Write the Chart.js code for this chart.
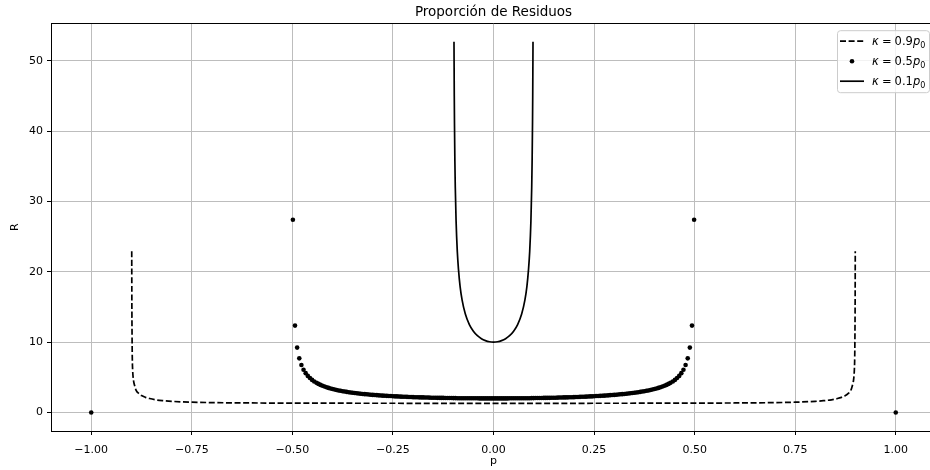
<!DOCTYPE html>
<html><head><meta charset="utf-8">
<script src="https://cdn.jsdelivr.net/npm/chart.js@4/dist/chart.umd.min.js"></script>
<style>
html,body{margin:0;padding:0;background:#fff;overflow:hidden;width:930px;height:470px}
#wrap{position:absolute;left:0;top:0;width:940px;height:470px}
</style>
</head><body><div id="wrap"><canvas id="c" width="940" height="470"></canvas></div>
<script>
const titleText = 'Proporción de Residuos';
const xLabel = 'p';
const yLabel = 'R';
const seriesLabels = ['κ = 0.9p₀', 'κ = 0.5p₀', 'κ = 0.1p₀'];
const kappaText = ['0.9', '0.5', '0.1'];
const xTicks = [-1, -0.75, -0.5, -0.25, 0, 0.25, 0.5, 0.75, 1];
const yTicks = [0, 10, 20, 30, 40, 50];

// kappa = 0.9 p0 (dashed)
const pDash = [-0.8993,-0.899,-0.8985,-0.898,-0.897,-0.895,-0.892,-0.888,-0.882,-0.875,-0.865,-0.855,-0.84,-0.82,-0.8,-0.75,-0.7,-0.6,-0.5,-0.3,0,0.3,0.5,0.6,0.7,0.75,0.8,0.82,0.84,0.855,0.865,0.875,0.882,0.888,0.892,0.895,0.897,0.898,0.8985,0.899,0.8993];
const rDash = [22.9,16,11,8,6,4.6,3.8,3.1,2.7,2.4,2.15,1.98,1.8,1.67,1.58,1.46,1.4,1.35,1.33,1.31,1.3,1.31,1.33,1.35,1.4,1.46,1.58,1.67,1.8,1.98,2.15,2.4,2.7,3.1,3.8,4.6,6,8,11,16,22.9];

// kappa = 0.5 p0 (dots)
const pDotsEnds = [-1, 1];
const rDotsEnds = [0, 0];
const pDotsLeft = [-0.4987,-0.4934,-0.4881,-0.4828,-0.4775,-0.4722,-0.4669,-0.4616,-0.4563,-0.451,-0.4457,-0.44,-0.435,-0.43,-0.425,-0.42,-0.415,-0.41,-0.405,-0.4,-0.395,-0.39,-0.385,-0.38,-0.375,-0.37,-0.365,-0.36,-0.355,-0.35,-0.345,-0.34,-0.335,-0.33,-0.325,-0.32,-0.315,-0.31,-0.305,-0.3,-0.295,-0.29,-0.285,-0.28,-0.275,-0.27,-0.265,-0.26,-0.255,-0.25,-0.245,-0.24,-0.235,-0.23,-0.225,-0.22,-0.215,-0.21,-0.205,-0.2,-0.195,-0.19,-0.185,-0.18,-0.175,-0.17,-0.165,-0.16,-0.155,-0.15,-0.145,-0.14,-0.135,-0.13,-0.125,-0.12,-0.115,-0.11,-0.105,-0.1,-0.095,-0.09,-0.085,-0.08,-0.075,-0.07,-0.065,-0.06,-0.055,-0.05,-0.045,-0.04,-0.035,-0.03,-0.025,-0.02,-0.015,-0.01,-0.005,0];
const rDotsLeft = [27.4,12.35,9.22,7.69,6.74,6.08,5.59,5.20,4.89,4.63,4.41,4.21,4.06,3.92,3.80,3.69,3.59,3.49,3.41,3.33,3.26,3.20,3.13,3.08,3.02,2.97,2.93,2.88,2.84,2.80,2.76,2.73,2.69,2.66,2.63,2.60,2.58,2.55,2.52,2.50,2.48,2.46,2.43,2.41,2.39,2.38,2.36,2.34,2.33,2.31,2.29,2.28,2.27,2.25,2.24,2.23,2.22,2.20,2.19,2.18,2.17,2.16,2.15,2.14,2.14,2.13,2.12,2.11,2.10,2.10,2.09,2.08,2.08,2.07,2.07,2.06,2.06,2.05,2.05,2.04,2.04,2.03,2.03,2.03,2.02,2.02,2.02,2.01,2.01,2.01,2.01,2.01,2.00,2.00,2.00,2.00,2.00,2.00,2.00,2.00];
const pDotsRight = [0.005,0.01,0.015,0.02,0.025,0.03,0.035,0.04,0.045,0.05,0.055,0.06,0.065,0.07,0.075,0.08,0.085,0.09,0.095,0.1,0.105,0.11,0.115,0.12,0.125,0.13,0.135,0.14,0.145,0.15,0.155,0.16,0.165,0.17,0.175,0.18,0.185,0.19,0.195,0.2,0.205,0.21,0.215,0.22,0.225,0.23,0.235,0.24,0.245,0.25,0.255,0.26,0.265,0.27,0.275,0.28,0.285,0.29,0.295,0.3,0.305,0.31,0.315,0.32,0.325,0.33,0.335,0.34,0.345,0.35,0.355,0.36,0.365,0.37,0.375,0.38,0.385,0.39,0.395,0.4,0.405,0.41,0.415,0.42,0.425,0.43,0.435,0.44,0.4457,0.451,0.4563,0.4616,0.4669,0.4722,0.4775,0.4828,0.4881,0.4934,0.4987];
const rDotsRight = [2.00,2.00,2.00,2.00,2.00,2.00,2.00,2.01,2.01,2.01,2.01,2.01,2.02,2.02,2.02,2.03,2.03,2.03,2.04,2.04,2.05,2.05,2.06,2.06,2.07,2.07,2.08,2.08,2.09,2.10,2.10,2.11,2.12,2.13,2.14,2.14,2.15,2.16,2.17,2.18,2.19,2.20,2.22,2.23,2.24,2.25,2.27,2.28,2.29,2.31,2.33,2.34,2.36,2.38,2.39,2.41,2.43,2.46,2.48,2.50,2.52,2.55,2.58,2.60,2.63,2.66,2.69,2.73,2.76,2.80,2.84,2.88,2.93,2.97,3.02,3.08,3.13,3.20,3.26,3.33,3.41,3.49,3.59,3.69,3.80,3.92,4.06,4.21,4.41,4.63,4.89,5.20,5.59,6.08,6.74,7.69,9.22,12.35,27.4];

// kappa = 0.1 p0 (solid)
const pSolid = [-0.0982,-0.098,-0.0975,-0.097,-0.096,-0.095,-0.093,-0.09,-0.087,-0.083,-0.078,-0.07,-0.06,-0.05,-0.04,-0.03,-0.02,-0.01,0,0.01,0.02,0.03,0.04,0.05,0.06,0.07,0.078,0.083,0.087,0.09,0.093,0.095,0.096,0.097,0.0975,0.098,0.0982];
const rSolid = [52.7,50.25,45.0,41.1,35.7,32.0,27.2,22.9,20.3,17.9,15.98,14.0,12.5,11.55,10.91,10.48,10.21,10.05,10.0,10.05,10.21,10.48,10.91,11.55,12.5,14.0,15.98,17.9,20.3,22.9,27.2,32.0,35.7,41.1,45.0,50.25,52.7];

const toPts = (ps, rs) => ps.map((p, i) => ({x: p, y: rs[i]}));
const FONT = '"DejaVu Sans", sans-serif';

function drawMath(ctx, val, x, y, fs) {
  const it = 'italic ' + fs + 'px ' + FONT, rm = fs + 'px ' + FONT;
  ctx.textBaseline = 'alphabetic'; ctx.textAlign = 'left'; ctx.fillStyle = '#000';
  ctx.font = it; ctx.fillText('κ', x, y); x += ctx.measureText('κ').width + fs * 0.27;
  ctx.font = rm; ctx.fillText('=', x, y); x += ctx.measureText('=').width + fs * 0.27;
  ctx.fillText(val, x, y); x += ctx.measureText(val).width;
  ctx.font = it; ctx.fillText('p', x, y); x += ctx.measureText('p').width;
  ctx.font = (fs * 0.7).toFixed(1) + 'px ' + FONT; ctx.fillText('0', x, y + fs * 0.22);
}

const framePlugin = {
  id: 'frame',
  afterDatasetsDraw(chart) {
    const {ctx, chartArea: a} = chart;
    ctx.save();
    ctx.strokeStyle = '#000'; ctx.lineWidth = 1;
    ctx.beginPath();
    const t = Math.round(a.top) + 0.5;
    ctx.moveTo(a.left, t); ctx.lineTo(a.right, t);
    ctx.moveTo(Math.round(a.right) - 0.5, a.top); ctx.lineTo(Math.round(a.right) - 0.5, a.bottom);
    ctx.stroke();
    ctx.restore();
  }
};

const legendPlugin = {
  id: 'mplLegend',
  afterDraw(chart) {
    const {ctx, chartArea: a} = chart;
    const w = 92, h = 62;
    const bx = a.right - 7 - w, by = a.top + 7;
    ctx.save();
    ctx.beginPath();
    ctx.roundRect(bx + 0.5, by + 0.5, w, h, 3);
    ctx.fillStyle = 'rgba(255,255,255,0.8)'; ctx.fill();
    ctx.strokeStyle = '#cccccc'; ctx.lineWidth = 1; ctx.stroke();
    chart.data.datasets.forEach((ds, i) => {
      const cy = by + 11 + i * 20;
      const x0 = bx + 3, x1 = bx + 27;
      ctx.strokeStyle = '#000'; ctx.fillStyle = '#000';
      if (ds.showLine) {
        ctx.setLineDash(ds.borderDash || []);
        ctx.lineWidth = ds.borderWidth;
        ctx.beginPath(); ctx.moveTo(x0, cy); ctx.lineTo(x1, cy); ctx.stroke();
        ctx.setLineDash([]);
      } else {
        ctx.beginPath(); ctx.arc((x0 + x1) / 2, cy, ds.pointRadius, 0, Math.PI * 2); ctx.fill();
      }
      drawMath(ctx, kappaText[i], bx + 35, cy + 4, 11.5);
    });
    ctx.restore();
  }
};

const fmtX = v => (v < 0 ? '\u2212' : '') + Math.abs(v).toFixed(2);

new Chart(document.getElementById('c'), {
  type: 'scatter',
  data: {
    datasets: [
      {label: seriesLabels[0], data: toPts(pDash, rDash), showLine: true, borderColor: '#000', borderWidth: 1.7, borderDash: [6, 2.6], pointRadius: 0, cubicInterpolationMode: 'monotone', order: 3},
      {label: seriesLabels[1], data: [...toPts(pDotsEnds, rDotsEnds), ...toPts(pDotsLeft, rDotsLeft), ...toPts(pDotsRight, rDotsRight)], showLine: false, pointRadius: 2.3, pointBackgroundColor: '#000', pointBorderWidth: 0, pointHoverRadius: 2.3, order: 2},
      {label: seriesLabels[2], data: toPts(pSolid, rSolid), showLine: true, borderColor: '#000', borderWidth: 1.7, pointRadius: 0, cubicInterpolationMode: 'monotone', order: 1}
    ]
  },
  options: {
    responsive: false,
    animation: false,
    devicePixelRatio: 1,
    events: [],
    layout: {padding: {top: 0, left: 0, right: 4, bottom: 0}},
    plugins: {
      legend: {display: false},
      tooltip: {enabled: false},
      title: {display: true, text: titleText, fullSize: false, color: '#000', font: {family: FONT, size: 13.5, weight: 'normal'}, padding: {top: 4, bottom: 3}}
    },
    scales: {
      x: {
        type: 'linear', position: 'bottom', min: -1.1, max: 1.1,
        afterBuildTicks: s => { s.ticks = xTicks.map(v => ({value: v})); },
        afterFit: s => { s.height = 39; },
        grid: {color: '#bdbdbd', lineWidth: 1, tickLength: 4, tickColor: '#000', tickWidth: 1},
        border: {display: true, color: '#000', width: 1},
        ticks: {color: '#000', font: {family: FONT, size: 11}, padding: 9, maxRotation: 0, autoSkip: false, callback: v => fmtX(v)},
        title: {display: true, text: xLabel, color: '#000', font: {family: FONT, size: 11}, padding: {top: 0, bottom: 2}}
      },
      y: {
        type: 'linear', position: 'left', min: -2.635, max: 55.335,
        afterBuildTicks: s => { s.ticks = yTicks.map(v => ({value: v})); },
        afterFit: s => { s.width = 51; },
        grid: {color: '#bdbdbd', lineWidth: 1, tickLength: 4, tickColor: '#000', tickWidth: 1},
        border: {display: true, color: '#000', width: 1},
        ticks: {color: '#000', font: {family: FONT, size: 11}, padding: 4, callback: v => String(v)},
        title: {display: true, text: yLabel, color: '#000', font: {family: FONT, size: 11}, padding: {top: 9, bottom: 0}}
      }
    }
  },
  plugins: [framePlugin, legendPlugin]
});
</script>
</body></html>
